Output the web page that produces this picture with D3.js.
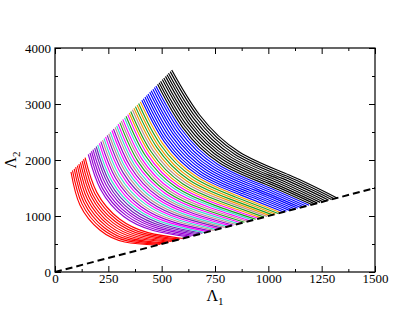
<!DOCTYPE html>
<html>
<head>
<meta charset="utf-8">
<script src="https://cdn.jsdelivr.net/npm/d3@7"></script>
<style>
body{margin:0;background:#fff;}
svg{display:block;}
.tick text{font-family:'Liberation Serif','Times New Roman',serif;font-size:13px;fill:#000;}
.axlab{font-family:'Liberation Serif','Times New Roman',serif;fill:#000;}
</style>
</head>
<body>
<div class="canvas"></div>
<script>
// lambda1 / lambda2 curves, inner (red) to outer (black)

var tipX = [75,82,90,97,105,112,119,127,134,141,
	156,164,171,178,186,193,200,208,215,223,230,237,245,252,259,267,274,282,289,296,304,311,318,326,333,341,348,355,363,370,377,385,392,400,407,414,422,429,436,444,451,459,466,473,481,488,495,503,510,518,525,532,540,547];
var tipY = [1786,1814,1843,1871,1900,1928,1957,1985,2014,2042,
	2099,2127,2156,2184,2213,2241,2270,2298,2327,2355,2383,2412,2440,2469,2497,2526,2554,2583,2611,2640,2668,2696,2725,2753,2782,2810,2839,2867,2896,2924,2953,2981,3009,3038,3066,3095,3123,3152,3180,3209,3237,3265,3294,3322,3351,3379,3408,3436,3465,3493,3522,3550,3578,3607];
var p1X = [117,126,135,143,152,161,170,178,187,196,
	214,222,231,240,249,257,266,275,284,292,301,310,319,328,336,345,354,363,371,380,389,398,406,415,424,433,442,450,459,468,477,485,494,503,512,520,529,538,547,556,564,573,582,591,599,608,617,626,634,643,652,661,670,678];
var p1Y = [1196,1221,1246,1271,1297,1322,1347,1372,1397,1422,
	1472,1498,1523,1548,1573,1598,1623,1648,1674,1699,1724,1749,1774,1799,1824,1849,1875,1900,1925,1950,1975,2000,2025,2050,2076,2101,2126,2151,2176,2201,2226,2251,2277,2302,2327,2352,2377,2402,2427,2453,2478,2503,2528,2553,2578,2603,2628,2654,2679,2704,2729,2754,2779,2804];
var p2X = [210,220,230,241,251,261,271,282,292,302,
	322,333,343,353,363,374,384,394,404,414,425,435,445,455,466,476,486,496,506,517,527,537,547,558,568,578,588,598,609,619,629,639,650,660,670,680,690,701,711,721,731,741,752,762,772,782,793,803,813,823,833,844,854,864];
var p2Y = [750,772,794,815,837,859,881,902,924,946,
	990,1011,1033,1055,1077,1098,1120,1142,1164,1185,1207,1229,1251,1273,1294,1316,1338,1360,1381,1403,1425,1447,1468,1490,1512,1534,1556,1577,1599,1621,1643,1664,1686,1708,1730,1751,1773,1795,1817,1839,1860,1882,1904,1926,1947,1969,1991,2013,2034,2056,2078,2100,2122,2143];
var p3X = [327,339,351,363,375,387,399,411,423,436,
	460,472,484,496,508,520,532,544,556,568,580,592,604,616,628,640,652,664,677,689,701,713,725,737,749,761,773,785,797,809,821,833,845,857,869,881,893,905,918,930,942,954,966,978,990,1002,1014,1026,1038,1050,1062,1074,1086,1098];
var p3Y = [536,555,573,592,611,630,648,667,686,704,
	742,760,779,798,816,835,854,872,891,910,929,947,966,985,1003,1022,1041,1059,1078,1097,1115,1134,1153,1172,1190,1209,1228,1246,1265,1284,1302,1321,1340,1358,1377,1396,1414,1433,1452,1471,1489,1508,1527,1545,1564,1583,1601,1620,1639,1657,1676,1695,1714,1732];
// every curve ends on the line lambda2 = lambda1
var endX = [481,494,507,520,534,547,560,573,586,599,
	626,639,652,665,678,691,704,718,731,744,757,770,783,796,810,823,836,849,862,875,888,902,915,928,941,954,967,980,994,1007,1020,1033,1046,1059,1072,1085,1099,1112,1125,1138,1151,1164,1177,1191,1204,1217,1230,1243,1256,1269,1283,1296,1309,1322];

var curveSet = ['red','red','red','red','red','red','red','red','red','red',
	'violet','violet','violet','violet','indigo','indigo',
	'turquoise','magenta','violet','brown','turquoise','magenta','indigo','brown','turquoise','magenta','violet','brown','turquoise','magenta',
	'green4','brown','magenta','turquoise','green4','magenta','orange','green4','brown','orange','green4','orange','green4','orange',
	'blue','blue','blue','blue','blue','blue','blue','blue','blue','blue',
	'black','black','black','black','black','black','black','black','black','black'];

var diagonal = [[0,0],[1500,1500]];

var xTicks = [0,250,500,750,1000,1250,1500];
var xMinor = [125,375,625,875,1125,1375];
var yTicks = [0,1000,2000,3000,4000];
var yMinor = [500,1500,2500,3500];

var margin = {t:48,r:40,b:49,l:55};
var W = 415, H = 321;
var width = W-margin.l-margin.r,
	height = H-margin.t-margin.b;

var svg = d3.select('.canvas')
	.append('svg')
	.attr('width',W)
	.attr('height',H);

var plot = svg.append('g')
	.attr('transform','translate('+margin.l+','+margin.t+')');

var scaleX = d3.scaleLinear().domain([0,1500]).range([0,width]);
var scaleY = d3.scaleLinear().domain([0,4000]).range([height,0]);

var scaleColor = d3.scaleOrdinal()
	.domain(['black','red','green4','blue','brown','violet','magenta','orange','indigo','turquoise'])
	.range(['#000000','#ff0000','#1e9e1e','#0000ff','#bc8f8f','#9400d3','#ff00ff','#f29a00','#7221bc','#40d8d0']);

var curves = tipX.map(function(d,i){
	return {
		set: curveSet[i],
		pts: [[tipX[i],tipY[i]],[p1X[i],p1Y[i]],[p2X[i],p2Y[i]],[p3X[i],p3Y[i]],[endX[i],endX[i]]]
	}
});

var line = d3.line()
	.x(function(d){ return scaleX(d[0])})
	.y(function(d){ return scaleY(d[1])})
	.curve(d3.curveNatural);

plot.selectAll('.curve')
	.data(curves)
	.enter()
	.append('path')
	.attr('class','curve')
	.attr('d',function(d){ return line(d.pts)})
	.attr('fill','none')
	.attr('stroke',function(d){ return scaleColor(d.set)})
	.attr('stroke-width',1.15);

plot.append('path')
	.datum(diagonal)
	.attr('d',d3.line().x(function(d){return scaleX(d[0])}).y(function(d){return scaleY(d[1])}))
	.attr('fill','none')
	.attr('stroke','#000')
	.attr('stroke-width',2)
	.attr('stroke-dasharray','7,4');

// axes, ticks point inward like xmgrace
function styleAxis(g){
	g.select('.domain').remove();
	g.selectAll('.tick line').attr('stroke','#000').attr('stroke-width',1);
}
var fmt = d3.format('d');

plot.append('g')
	.attr('transform','translate(0,'+height+')')
	.call(d3.axisBottom(scaleX).tickValues(xTicks).tickFormat(fmt).tickSizeInner(-6).tickSizeOuter(0).tickPadding(2))
	.call(styleAxis);
plot.append('g')
	.attr('transform','translate(0,'+height+')')
	.call(d3.axisBottom(scaleX).tickValues(xMinor).tickFormat('').tickSizeInner(-3).tickSizeOuter(0))
	.call(styleAxis);
plot.append('g')
	.call(d3.axisTop(scaleX).tickValues(xTicks).tickFormat('').tickSizeInner(-6).tickSizeOuter(0))
	.call(styleAxis);
plot.append('g')
	.call(d3.axisTop(scaleX).tickValues(xMinor).tickFormat('').tickSizeInner(-3).tickSizeOuter(0))
	.call(styleAxis);

plot.append('g')
	.call(d3.axisLeft(scaleY).tickValues(yTicks).tickFormat(fmt).tickSizeInner(-6).tickSizeOuter(0).tickPadding(4))
	.call(styleAxis);
plot.append('g')
	.call(d3.axisLeft(scaleY).tickValues(yMinor).tickFormat('').tickSizeInner(-3).tickSizeOuter(0))
	.call(styleAxis);
plot.append('g')
	.attr('transform','translate('+width+',0)')
	.call(d3.axisRight(scaleY).tickValues(yTicks).tickFormat('').tickSizeInner(-6).tickSizeOuter(0))
	.call(styleAxis);
plot.append('g')
	.attr('transform','translate('+width+',0)')
	.call(d3.axisRight(scaleY).tickValues(yMinor).tickFormat('').tickSizeInner(-3).tickSizeOuter(0))
	.call(styleAxis);

plot.append('rect')
	.attr('width',width)
	.attr('height',height)
	.attr('fill','none')
	.attr('stroke','#000')
	.attr('stroke-width',1.2);

// axis titles
var xl = svg.append('text')
	.attr('class','axlab')
	.attr('x',margin.l+width/2)
	.attr('y',301)
	.attr('text-anchor','middle')
	.style('font-size','16px');
xl.append('tspan').text('Λ');
xl.append('tspan').attr('dy',4).style('font-size','11px').text('1');

var yl = svg.append('text')
	.attr('class','axlab')
	.attr('transform','translate(16,160) rotate(-90)')
	.attr('text-anchor','middle')
	.style('font-size','16px');
yl.append('tspan').text('Λ');
yl.append('tspan').attr('dy',4).style('font-size','11px').text('2');
</script>
</body>
</html>
